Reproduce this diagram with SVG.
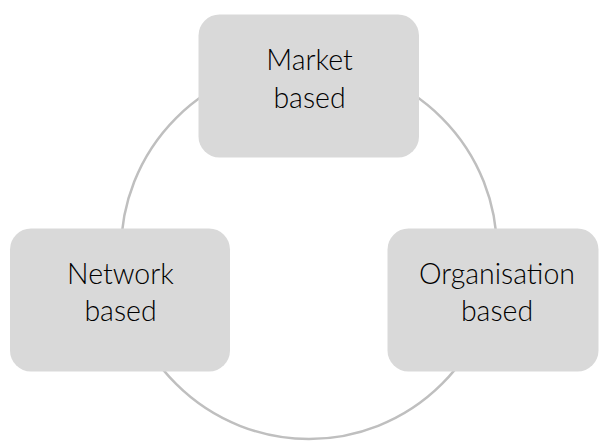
<svg xmlns="http://www.w3.org/2000/svg" width="599" height="441" viewBox="0 0 599 441">
<style>
.box{fill:#d9d9d9;}
.lbl{font-family:Lato,"Open Sans","Liberation Sans",sans-serif;font-weight:300;font-size:28.5px;fill:#000;text-anchor:middle;}
.ring{fill:none;stroke:#bfbfbf;stroke-width:2.5;}
</style>
<rect width="599" height="441" fill="#fff"/>
<g id="connectors">
<circle class="ring" cx="309" cy="251" r="188"/>
</g>
<g id="market">
<rect class="box" x="198.5" y="14.5" width="220.5" height="143" rx="21"/>
<text class="lbl" x="309.5" y="70">Market</text>
<text class="lbl" x="309.5" y="108">based</text>
</g>
<g id="network">
<rect class="box" x="10" y="228.5" width="220" height="143" rx="21"/>
<text class="lbl" x="120.5" y="284">Network</text>
<text class="lbl" x="120.5" y="321">based</text>
</g>
<g id="organisation">
<rect class="box" x="387.5" y="228.5" width="211" height="143" rx="21"/>
<text class="lbl" x="497" y="284">Organisation</text>
<text class="lbl" x="497" y="321">based</text>
</g>
</svg>
